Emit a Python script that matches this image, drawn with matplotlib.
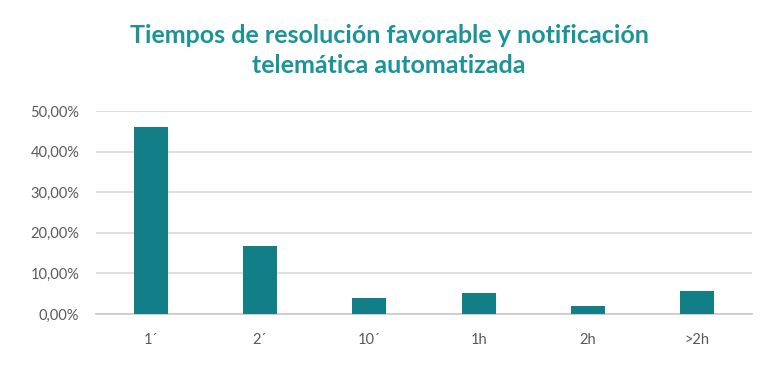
import matplotlib.pyplot as plt
from matplotlib.ticker import FuncFormatter

categories = ["1´", "2´", "10´", "1h", "2h", ">2h"]
values = [0.46, 0.167, 0.039, 0.052, 0.020, 0.057]
yticks = [0.0, 0.1, 0.2, 0.3, 0.4, 0.5]

bar_color = "#127f86"
title_color = "#1a9399"
text_color = "#595959"

plt.rcParams["font.family"] = ["Lato", "DejaVu Sans"]

fig = plt.figure(figsize=(7.78, 3.67), dpi=100)
ax = fig.add_axes([0.1234, 0.1444, 0.8432, 0.5531])

x = range(len(categories))
ax.bar(x, values, width=0.31, color=bar_color, zorder=3)

ax.set_xlim(-0.5, len(categories) - 0.5)
ax.set_ylim(0, 0.5)
ax.set_yticks(yticks)
ax.yaxis.set_major_formatter(FuncFormatter(lambda v, p: f"{v * 100:.2f}%".replace(".", ",")))
ax.set_xticks(list(x))
ax.set_xticklabels(categories)

ax.grid(axis="y", color="#d9d9d9", linewidth=1.2, zorder=0)
for s in ["top", "right", "left"]:
    ax.spines[s].set_visible(False)
ax.spines["bottom"].set_color("#c8c8c8")
ax.spines["bottom"].set_linewidth(1.2)
ax.tick_params(axis="both", length=0, labelsize=10.5, colors=text_color)
ax.tick_params(axis="x", pad=14)
ax.tick_params(axis="y", pad=12)

fig.text(0.5, 0.862, "Tiempos de resolución favorable y notificación\ntelemática automatizada",
         ha="center", va="center", fontsize=18, fontweight="bold", color=title_color,
         linespacing=1.35)

fig.savefig("out.png", dpi=100)
